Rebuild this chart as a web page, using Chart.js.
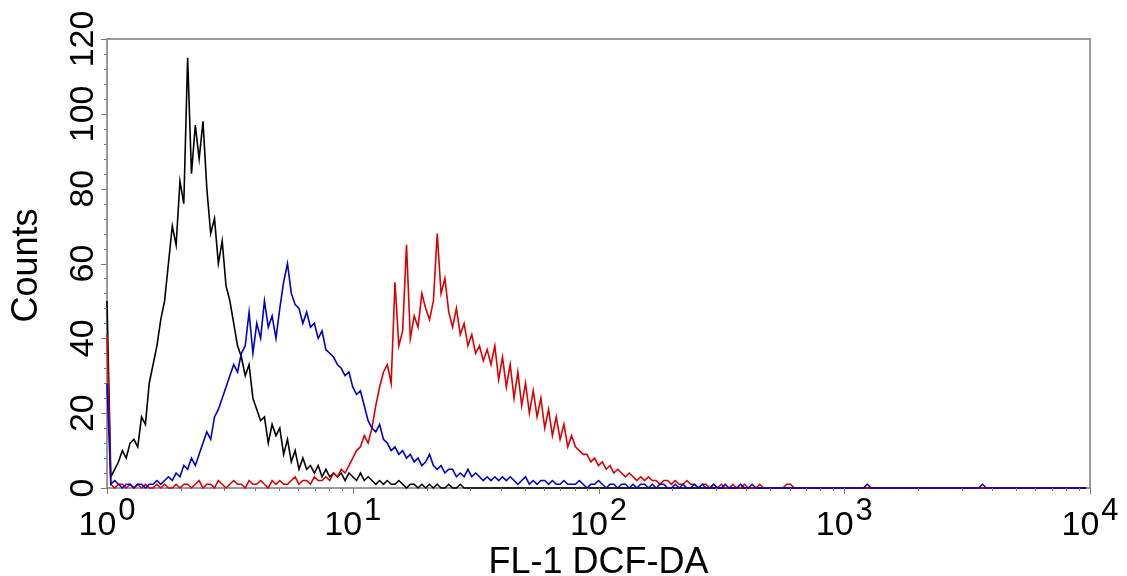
<!DOCTYPE html>
<html>
<head>
<meta charset="utf-8">
<title>FL-1 DCF-DA histogram</title>
<script src="https://cdn.jsdelivr.net/npm/chart.js@4/dist/chart.umd.min.js"></script>
<style>
  html, body { margin: 0; padding: 0; background: #fff; }
  canvas { display: block; }
</style>
</head>
<body>
<canvas id="histo" width="1127" height="576"></canvas>
<script>
// 256 channels over 4 decades (64 channels per decade), channel 0 = 10^0
const binsPerDecade = 64;

const controlCounts = [
  50, 3, 5, 7, 10, 8, 12, 13, 11, 19, 17, 28, 33, 38, 45, 50,
  60, 70, 65, 82, 76, 115, 84, 97, 88, 98, 80, 68, 72, 60, 66, 54,
  50, 44, 38, 35, 30, 33, 24, 21, 18, 19, 12, 17, 14, 16, 9, 13,
  7, 10, 5, 8, 5, 6, 4, 6, 3, 5, 3, 4, 3, 4, 2, 4,
  3, 2, 4, 2, 3, 2, 1, 2, 1, 2, 1, 1, 2, 1, 0, 1,
  1, 0, 1, 0, 1, 0, 1, 0, 0, 1, 0, 0, 1, 0, 0, 0,
  0, 0, 0, 0, 0, 0, 0, 0, 0, 0, 0, 0, 0, 0, 0, 0,
  0, 0, 0, 0, 0, 0, 0, 0, 0, 0, 0, 0, 0, 0, 0, 0,
  0, 0, 0, 0, 0, 0, 0, 0, 0, 0, 0, 0, 0, 0, 0, 0,
  0, 0, 0, 0, 0, 0, 0, 0, 0, 0, 0, 0, 0, 0, 0, 0,
  0, 0, 0, 0, 0, 0, 0, 0, 0, 0, 0, 0, 0, 0, 0, 0,
  0, 0, 0, 0, 0, 0, 0, 0, 0, 0, 0, 0, 0, 0, 0, 0,
  0, 0, 0, 0, 0, 0, 0, 0, 0, 0, 0, 0, 0, 0, 0, 0,
  0, 0, 0, 0, 0, 0, 0, 0, 0, 0, 0, 0, 0, 0, 0, 0,
  0, 0, 0, 0, 0, 0, 0, 0, 0, 0, 0, 0, 0, 0, 0, 0,
  0, 0, 0, 0, 0, 0, 0, 0, 0, 0, 0, 0, 0, 0, 0, 0
];

const blueCounts = [
  28, 1, 2, 1, 0, 1, 1, 0, 1, 1, 0, 1, 1, 2, 1, 2,
  3, 2, 4, 3, 6, 5, 8, 6, 9, 12, 15, 13, 19, 21, 24, 27,
  30, 33, 31, 36, 38, 47, 36, 44, 40, 50, 43, 46, 40, 48, 55, 60,
  52, 49, 48, 44, 47, 43, 44, 40, 42, 37, 36, 35, 33, 32, 30, 31,
  27, 25, 26, 22, 18, 16, 15, 17, 13, 12, 10, 11, 9, 10, 8, 9,
  7, 8, 6, 7, 9, 6, 5, 6, 4, 5, 5, 3, 4, 3, 5, 3,
  4, 3, 2, 3, 2, 3, 2, 3, 2, 3, 2, 1, 2, 3, 1, 2,
  1, 2, 2, 1, 2, 1, 1, 2, 1, 1, 1, 2, 1, 0, 1, 1,
  2, 1, 0, 1, 1, 0, 1, 1, 0, 1, 0, 1, 1, 0, 1, 0,
  1, 1, 0, 0, 1, 0, 1, 0, 0, 1, 0, 1, 0, 0, 1, 0,
  0, 1, 0, 0, 0, 1, 0, 0, 1, 0, 0, 0, 0, 0, 0, 0,
  0, 0, 0, 0, 0, 0, 0, 0, 0, 0, 0, 0, 0, 0, 0, 0,
  0, 0, 0, 0, 0, 0, 1, 0, 0, 0, 0, 0, 0, 0, 0, 0,
  0, 0, 0, 0, 0, 0, 0, 0, 0, 0, 0, 0, 0, 0, 0, 0,
  0, 0, 0, 0, 1, 0, 0, 0, 0, 0, 0, 0, 0, 0, 0, 0,
  0, 0, 0, 0, 0, 0, 0, 0, 0, 0, 0, 0, 0, 0, 0, 0
];

const redCounts = [
  41, 1, 0, 1, 1, 0, 1, 0, 1, 0, 1, 0, 0, 1, 0, 1,
  0, 0, 1, 0, 1, 1, 0, 1, 2, 0, 1, 1, 0, 2, 1, 0,
  1, 2, 1, 1, 0, 2, 1, 1, 2, 1, 0, 2, 1, 2, 1, 1,
  2, 3, 1, 2, 2, 1, 3, 2, 2, 3, 2, 4, 3, 5, 4, 6,
  8, 10, 11, 14, 12, 16, 22, 27, 31, 33, 28, 55, 38, 42, 65, 40,
  46, 43, 52, 48, 45, 50, 68, 52, 56, 47, 43, 48, 41, 44, 38, 41,
  36, 38, 34, 37, 33, 38, 29, 35, 27, 33, 24, 31, 22, 28, 20, 26,
  19, 24, 16, 21, 14, 19, 13, 17, 11, 14, 11, 10, 9, 9, 7, 8,
  6, 7, 5, 6, 4, 5, 4, 3, 4, 3, 2, 3, 2, 3, 2, 2,
  1, 2, 2, 1, 2, 1, 1, 2, 1, 1, 0, 1, 1, 0, 1, 0,
  1, 0, 0, 1, 0, 0, 1, 0, 0, 0, 1, 0, 0, 0, 0, 0,
  0, 1, 1, 0, 0, 0, 0, 0, 0, 0, 0, 0, 0, 0, 0, 0,
  0, 0, 0, 0, 0, 0, 0, 0, 0, 0, 0, 0, 0, 0, 0, 0,
  0, 0, 0, 0, 0, 0, 0, 0, 0, 0, 0, 0, 0, 0, 0, 0,
  0, 0, 0, 0, 0, 0, 0, 0, 0, 0, 0, 0, 0, 0, 0, 0,
  0, 0, 0, 0, 0, 0, 0, 0, 0, 0, 0, 0, 0, 0, 0, 0
];

const xDecades = [1, 10, 100, 1000, 10000];
const xExponents = ['0', '1', '2', '3', '4'];
const yTickLabels = [0, 20, 40, 60, 80, 100, 120];

const axisGray = '#7a7a7a';
const fontFamily = '"Liberation Sans", Arial, Helvetica, sans-serif';

function toPoints(counts) {
    return counts.map(function (c, i) {
        return { x: Math.pow(10, i / binsPerDecade), y: c };
    });
}

// frame, ticks and labels are drawn by hand from the chart's scales
const flowAxes = {
    id: 'flowAxes',
    beforeDatasetsDraw: function (chart) {
        var ctx = chart.ctx;
        var a = chart.chartArea;
        ctx.save();
        ctx.strokeStyle = axisGray;
        ctx.lineWidth = 1.5;
        ctx.strokeRect(a.left, a.top, a.right - a.left, a.bottom - a.top);
        ctx.restore();
    },
    afterDraw: function (chart) {
        var ctx = chart.ctx;
        var a = chart.chartArea;
        var xs = chart.scales.x;
        var ys = chart.scales.y;
        ctx.save();
        ctx.strokeStyle = axisGray;
        ctx.lineWidth = 1;

        // y ticks, minor every 4
        for (var v = 0; v <= 120; v += 4) {
            var py = Math.round(ys.getPixelForValue(v)) + 0.5;
            var len = (v % 20 === 0) ? 6 : 3;
            ctx.beginPath();
            ctx.moveTo(a.left - len, py);
            ctx.lineTo(a.left, py);
            ctx.stroke();
        }
        // x ticks, decades and 2..9
        for (var d = 0; d < xDecades.length; d++) {
            for (var m = 1; m <= 9; m++) {
                if (d === xDecades.length - 1 && m > 1) break;
                var px = Math.round(xs.getPixelForValue(xDecades[d] * m)) + 0.5;
                var l = (m === 1) ? 6 : 3;
                ctx.beginPath();
                ctx.moveTo(px, a.bottom);
                ctx.lineTo(px, a.bottom + l);
                ctx.stroke();
            }
        }

        ctx.fillStyle = '#000';
        // y labels, rotated
        ctx.font = '34px ' + fontFamily;
        ctx.textAlign = 'center';
        ctx.textBaseline = 'alphabetic';
        yTickLabels.forEach(function (t) {
            ctx.save();
            ctx.translate(a.left - 14, ys.getPixelForValue(t));
            ctx.rotate(-Math.PI / 2);
            ctx.fillText(String(t), 0, 0);
            ctx.restore();
        });

        // x labels as 10 with raised exponent
        ctx.textAlign = 'left';
        xDecades.forEach(function (val, i) {
            var cx = xs.getPixelForValue(val);
            ctx.font = '34px ' + fontFamily;
            var w1 = ctx.measureText('10').width;
            ctx.font = '31px ' + fontFamily;
            var w2 = ctx.measureText(xExponents[i]).width;
            var x0 = cx - (w1 + 2 + w2) / 2;
            ctx.font = '34px ' + fontFamily;
            ctx.fillText('10', x0, a.bottom + 47);
            ctx.font = '31px ' + fontFamily;
            ctx.fillText(xExponents[i], x0 + w1 + 2, a.bottom + 32);
        });

        // axis titles
        ctx.font = '36px ' + fontFamily;
        ctx.textAlign = 'center';
        ctx.fillText('FL-1 DCF-DA', (a.left + a.right) / 2, 573);
        ctx.save();
        ctx.translate(37, (a.top + a.bottom) / 2 + 2);
        ctx.rotate(-Math.PI / 2);
        ctx.fillText('Counts', 0, 0);
        ctx.restore();

        ctx.restore();
    }
};

new Chart(document.getElementById('histo'), {
    type: 'line',
    data: {
        datasets: [
            {
                label: 'Blue',
                data: toPoints(blueCounts),
                borderColor: '#0000cc',
                borderWidth: 1.6,
                order: 0
            },
            {
                label: 'Red',
                data: toPoints(redCounts),
                borderColor: '#dd0000',
                borderWidth: 1.6,
                order: 1
            },
            {
                label: 'Control',
                data: toPoints(controlCounts),
                borderColor: '#000000',
                borderWidth: 1.6,
                order: 2
            }
        ]
    },
    options: {
        responsive: false,
        animation: false,
        devicePixelRatio: 1,
        layout: { padding: { left: 107, right: 37, top: 39, bottom: 88 } },
        elements: {
            point: { radius: 0 },
            line: { tension: 0 }
        },
        datasets: { line: { clip: 3 } },
        plugins: {
            legend: { display: false },
            tooltip: { enabled: false }
        },
        scales: {
            x: { type: 'logarithmic', min: 1, max: 10000, display: false },
            y: { type: 'linear', min: 0, max: 120, display: false }
        }
    },
    plugins: [flowAxes]
});
</script>
</body>
</html>
